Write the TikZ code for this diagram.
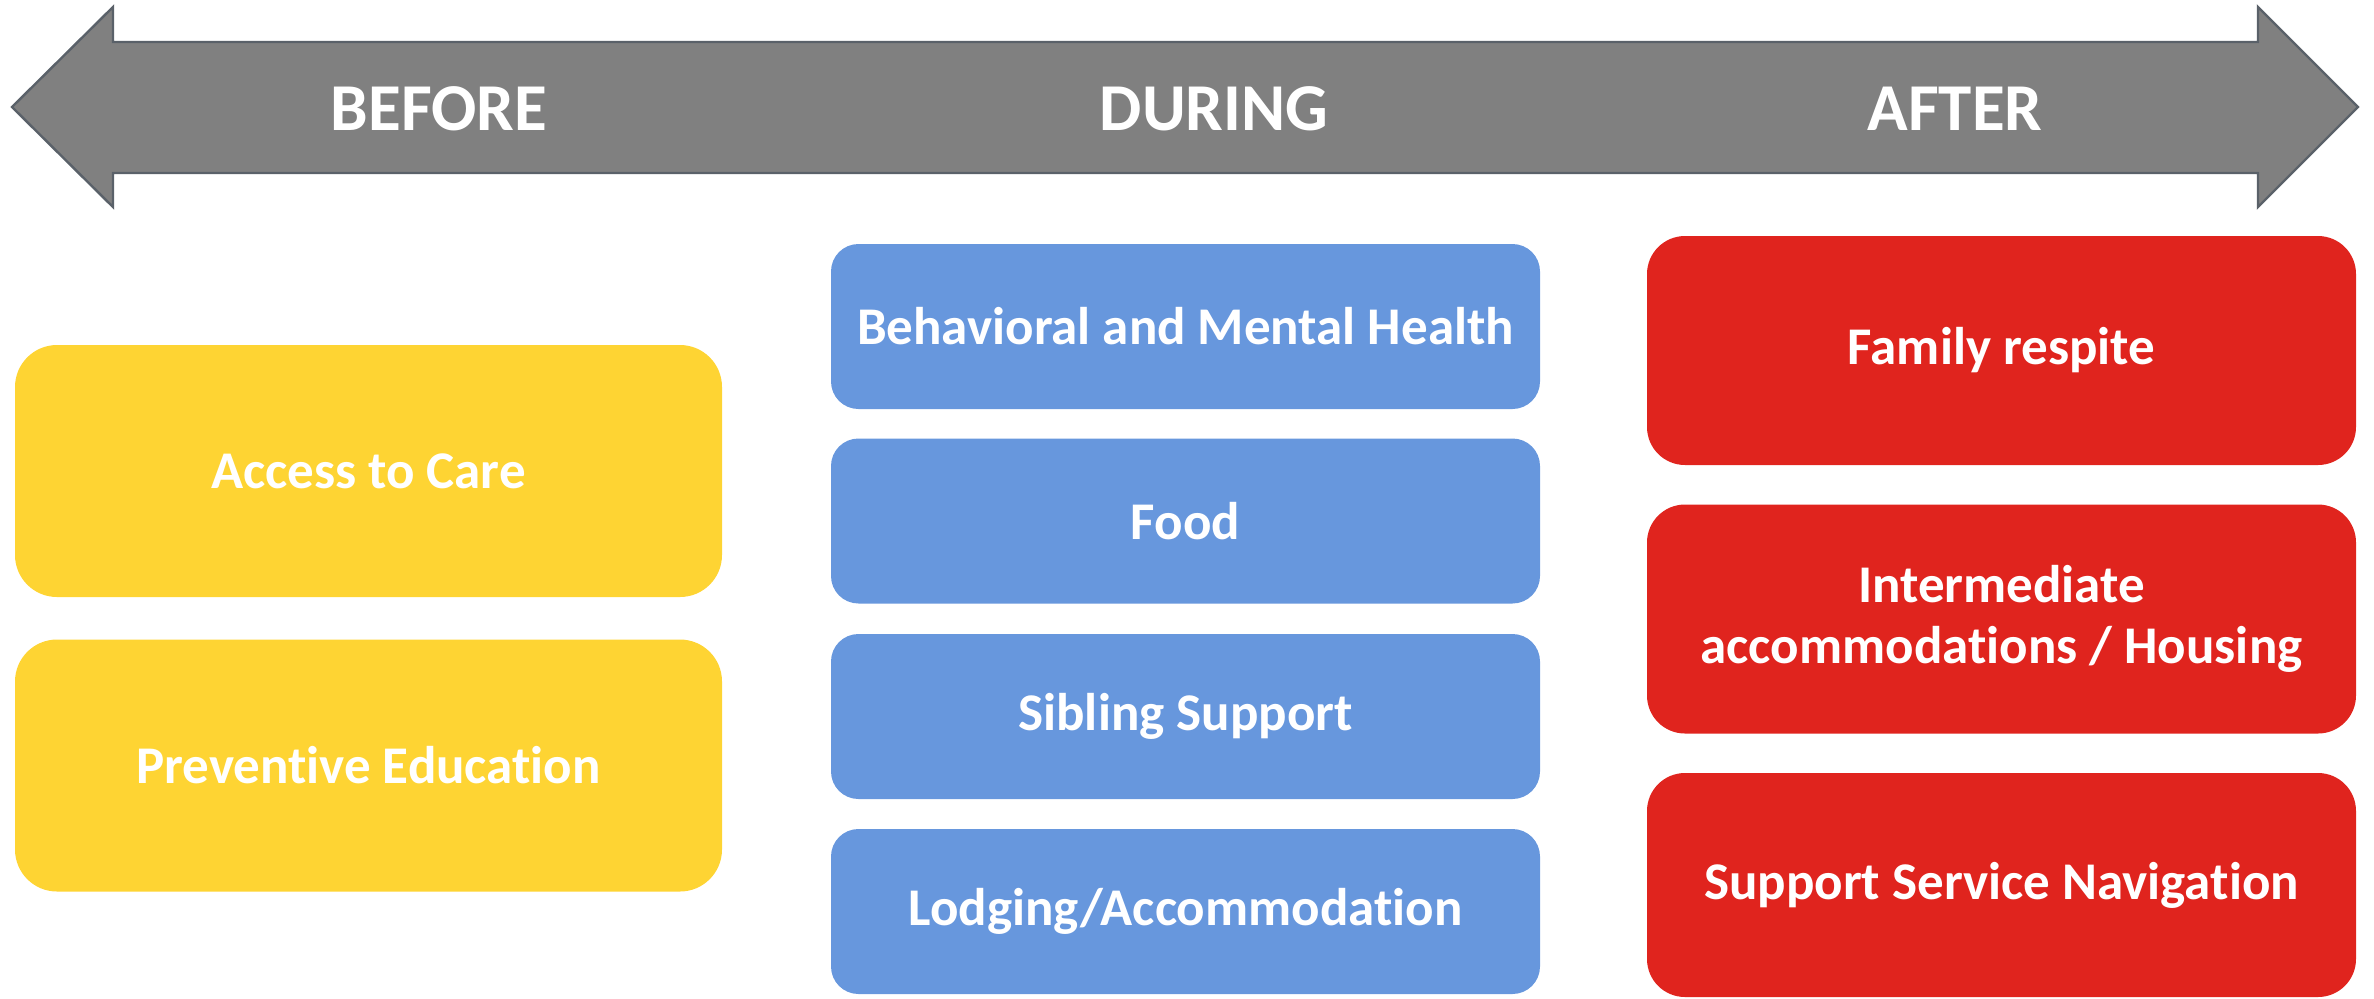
\documentclass[tikz,border=0pt]{standalone}
\usepackage{fontspec}
\setmainfont{Carlito}[Ligatures=NoCommon]
\definecolor{ayellow}{HTML}{FED433}
\definecolor{ablue}{HTML}{6797DD}
\definecolor{ared}{HTML}{E0241E}
\definecolor{agray}{HTML}{808080}
\definecolor{aedge}{HTML}{5A6169}
\begin{document}
\begin{tikzpicture}[x=0.5pt,y=-0.5pt,
  box/.style={rectangle, text=white, font=\fontsize{26.5}{30.5}\selectfont\bfseries, align=center, inner sep=0pt},
  ybox/.style={box, fill=ayellow, minimum width=353.5pt, minimum height=126pt, rounded corners=21pt},
  bbox/.style={box, fill=ablue, minimum width=354.5pt, minimum height=82.5pt, rounded corners=13.75pt},
  rbox/.style={box, fill=ared, minimum width=354.5pt, minimum height=114.5pt, rounded corners=19pt},
  phase/.style={text=white, font=\fontsize{33.5}{36}\selectfont\bfseries, inner sep=0pt}
]
\useasboundingbox (0,0) rectangle (2374,998);
% timeline arrow
\draw[fill=agray, draw=aedge, line width=1.2pt, line join=miter]
  (12,107) -- (113,7) -- (113,42) -- (2258,42) -- (2258,7) -- (2358,107)
  -- (2258,207) -- (2258,173) -- (113,173) -- (113,207) -- cycle;
\node[phase] (before) at (439,109) {BEFORE};
\node[phase] (during) at (1214,109) {DURING};
\node[phase] (after) at (1955,109) {AFTER};
% before
\node[ybox] (access) at (368.5,471) {Access to Care};
\node[ybox] (prevent) at (368.5,765.5) {Preventive Education};
% during
\node[bbox] (behav) at (1185.5,326.5) {Behavioral and Mental Health};
\node[bbox] (food) at (1185.5,521) {Food};
\node[bbox] (sibling) at (1185.5,716.5) {Sibling Support};
\node[bbox] (lodging) at (1185.5,911.5) {Lodging/Accommodation};
% after
\node[rbox] (respite) at (2001.5,350.5) {Family respite};
\node[rbox] (housing) at (2001.5,619) {Intermediate\\accommodations / Housing};
\node[rbox, minimum height=112pt] (navig) at (2001.5,885) {Support Service Navigation};
\end{tikzpicture}
\end{document}
